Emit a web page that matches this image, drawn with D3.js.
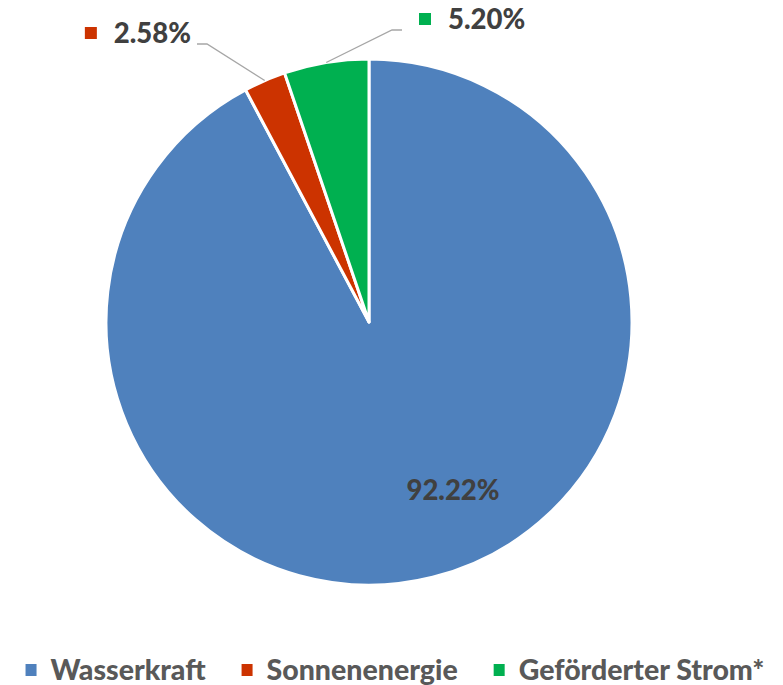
<!DOCTYPE html>
<html lang="de">
<head>
<meta charset="UTF-8">
<title>Strommix</title>
<script src="https://d3js.org/d3.v7.min.js"></script>
<style>
  body { margin: 0; background: #fff; }
  text { font-family: Lato, "Open Sans", sans-serif; font-weight: 900; }
  .pct { fill: #404040; font-size: 27.5px; }
  .legend text { fill: #595959; font-size: 28.5px; }
  .leader { fill: none; stroke: #a6a6a6; stroke-width: 1.3px; }
</style>
</head>
<body>
<div id="chart"></div>
<script>
// data
const categories = ["Wasserkraft", "Sonnenenergie", "Geförderter Strom*"];
const values = [92.22, 2.58, 5.20];
const labels = ["92.22%", "2.58%", "5.20%"];
const colors = ["#4f81bd", "#cc3300", "#00b050"];

const W = 783, H = 685;
const cx = 369, cy = 322, r = 263;

const svg = d3.select("#chart").append("svg")
    .attr("width", W).attr("height", H);

const pie = d3.pie().sort(null).value(d => d)(values);
const arc = d3.arc().innerRadius(0).outerRadius(r);

const g = svg.append("g").attr("transform", `translate(${cx},${cy})`);

g.selectAll("path.slice")
  .data(pie)
  .enter().append("path")
    .attr("class", "slice")
    .attr("d", arc)
    .attr("fill", (d, i) => colors[i])
    .attr("stroke", "#fff")
    .attr("stroke-width", 3)
    .attr("stroke-linejoin", "round");

// label layout (relative to the pie centre): elbow point and text side
const labelPos = [
  { x: 84, y: 178, inside: true },
  { x: -162, y: -278, side: -1 },
  { x: 23, y: -292, side: 1 }
];

pie.forEach((d, i) => {
  const lp = labelPos[i];
  if (lp.inside) {
    g.append("text").attr("class", "pct")
      .attr("x", lp.x).attr("y", lp.y)
      .attr("text-anchor", "middle")
      .text(labels[i]);
    return;
  }
  const mid = (d.startAngle + d.endAngle) / 2;
  const p0 = [Math.sin(mid) * r, -Math.cos(mid) * r];
  const p1 = [lp.x, lp.y];
  const p2 = [lp.x + lp.side * 10, lp.y];
  g.append("polyline").attr("class", "leader")
    .attr("points", [p0, p1, p2].map(p => p.join(",")).join(" "));

  const lbl = g.append("g");
  const sq = lbl.append("rect")
    .attr("width", 12).attr("height", 12)
    .attr("fill", colors[i]);
  const t = lbl.append("text").attr("class", "pct").text(labels[i]);
  const tw = t.node().getComputedTextLength();
  // square + gap + text, placed beside the elbow
  const total = 12 + 17 + tw;
  const x0 = lp.side < 0 ? p2[0] - 6 - total : p2[0] + 17;
  const base = lp.y - 1;
  sq.attr("x", x0).attr("y", base - 16);
  t.attr("x", x0 + 29).attr("y", base);
});

// legend
const legend = svg.append("g").attr("class", "legend");
const items = legend.selectAll("g")
  .data(categories)
  .enter().append("g");
items.append("rect")
  .attr("width", 11).attr("height", 12)
  .attr("y", -16)
  .attr("fill", (d, i) => colors[i]);
items.append("text")
  .attr("x", 25)
  .text(d => d);

let xpos = 0;
items.each(function() {
  const w = d3.select(this).select("text").node().getComputedTextLength();
  d3.select(this).attr("transform", `translate(${xpos},0)`);
  xpos += 25 + w + 36;
});
const legendW = xpos - 36;
legend.attr("transform", `translate(${395 - legendW / 2},680)`);
</script>
</body>
</html>
